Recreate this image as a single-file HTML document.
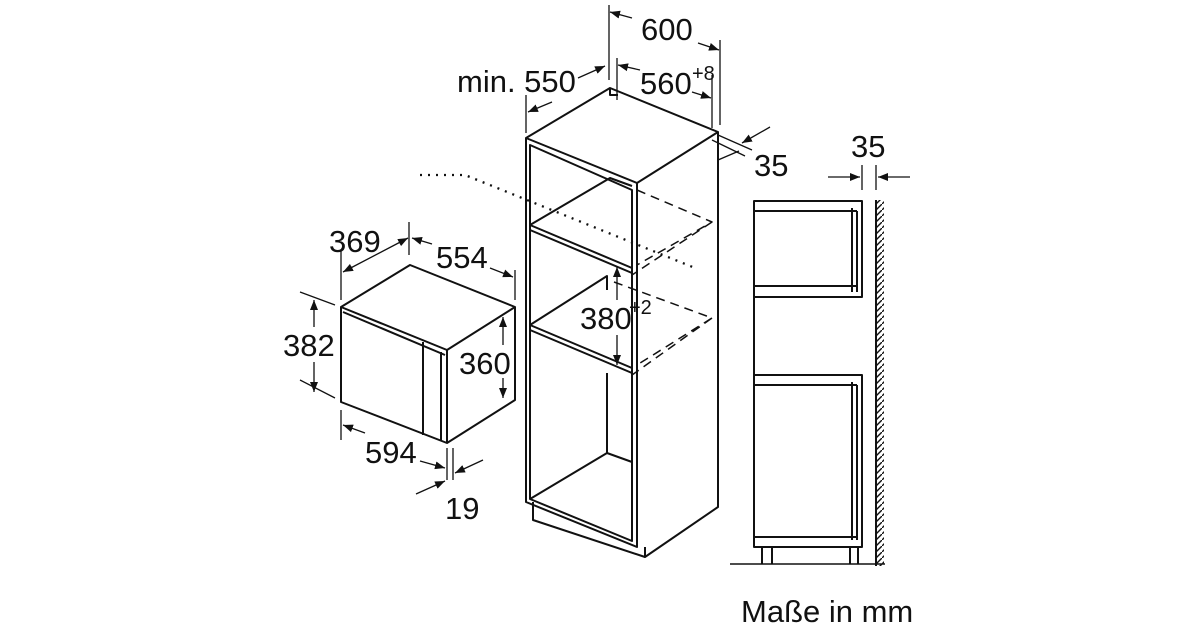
<!DOCTYPE html>
<html><head><meta charset="utf-8"><style>
body{margin:0;background:#fff}
svg{display:block}
text{font-family:"Liberation Sans",sans-serif;font-size:31px;fill:#111}
</style></head><body>
<svg width="1200" height="630" viewBox="0 0 1200 630" xmlns="http://www.w3.org/2000/svg">
<defs>
<marker id="a" viewBox="0 0 10 10" refX="10" refY="5" markerWidth="10" markerHeight="10" orient="auto-start-reverse" markerUnits="userSpaceOnUse"><path d="M0,1 L10,5 L0,9 z" fill="#111"/></marker>
<pattern id="h" width="6" height="6" patternUnits="userSpaceOnUse"><path d="M0,6 L6,0" stroke="#111" stroke-width="1.4"/></pattern>
</defs>
<g stroke="#111" stroke-width="2" fill="none" stroke-linejoin="round">
<!-- microwave -->
<path d="M341,307 L410,265 L515,307 L447,350 Z"/>
<path d="M343,312 L445,355"/>
<path d="M341,307 L341,402 L447,443 L515,400 L515,307"/>
<path d="M447,350 L447,443"/>
<path d="M423,342 L423,435"/>
<path d="M441,352 L441,440"/>
<!-- microwave dims -->
<path d="M341,250 V300" stroke-width="1.3"/>
<path d="M409,222 V255" stroke-width="1.3"/>
<path d="M515,270 V300" stroke-width="1.3"/>
<path d="M343,272 L408,238" marker-start="url(#a)" marker-end="url(#a)" stroke-width="1.3"/>
<path d="M432,244 L412,238" marker-end="url(#a)" stroke-width="1.3"/>
<path d="M490,268 L513,277" marker-end="url(#a)" stroke-width="1.3"/>
<path d="M300,292 L335,305 M300,380 L335,398" stroke-width="1.3"/>
<path d="M314,327 V300" marker-end="url(#a)" stroke-width="1.3"/>
<path d="M314,362 V392" marker-end="url(#a)" stroke-width="1.3"/>
<path d="M503,345 V317" marker-end="url(#a)" stroke-width="1.3"/>
<path d="M503,378 V398" marker-end="url(#a)" stroke-width="1.3"/>
<path d="M341,410 V440 M447,448 V480 M453,448 V480" stroke-width="1.3"/>
<path d="M365,433 L343,425" marker-end="url(#a)" stroke-width="1.3"/>
<path d="M420,461 L445,468" marker-end="url(#a)" stroke-width="1.3"/>
<path d="M483,460 L455,473" marker-end="url(#a)" stroke-width="1.3"/>
<path d="M416,494 L445,481" marker-end="url(#a)" stroke-width="1.3"/>
<!-- tall cabinet -->
<path d="M526,138 L610,88 L718,132 L637,183 Z"/>
<path d="M610,88 L610,95 L618,95"/>
<path d="M526,138 L526,502 L637,547 L637,183"/>
<path d="M530,145 L530,499 L632,541 L632,190 Z"/>
<path d="M718,132 V507 L645,557 L645,547"/>
<path d="M533,502 L533,520 L645,557"/>
<path d="M530,225 L632,268 M530,230 L632,273"/>
<path d="M530,225 L610,178 L632,186"/>
<path d="M530,325 L632,368 M530,330 L632,373"/>
<path d="M530,325 L607,276 L607,290"/>
<path d="M530,499 L607,453 L632,462"/>
<path d="M607,373 L607,453"/>
<g stroke-dasharray="9,6" stroke-width="1.5">
<path d="M637,190 L712,222 L637,265 M712,222 L632,275"/>
<path d="M614,282 L712,318 L637,365 M712,318 L632,375"/>
</g>
<path d="M420,175 H465 L695,268" stroke-dasharray="2,6" stroke-width="2.3"/>
<path d="M617,300 V267" marker-end="url(#a)" stroke-width="1.3"/>
<path d="M617,335 V365" marker-end="url(#a)" stroke-width="1.3"/>
<!-- top dims -->
<path d="M526,95 V133 M609,5 V80 M617,58 V100 M720,40 V125 M712,75 V128" stroke-width="1.3"/>
<path d="M632,18 L610,12" marker-end="url(#a)" stroke-width="1.3"/>
<path d="M698,43 L719,50" marker-end="url(#a)" stroke-width="1.3"/>
<path d="M578,78 L605,66" marker-end="url(#a)" stroke-width="1.3"/>
<path d="M552,102 L528,112" marker-end="url(#a)" stroke-width="1.3"/>
<path d="M640,70 L618,65" marker-end="url(#a)" stroke-width="1.3"/>
<path d="M692,92 L711,98" marker-end="url(#a)" stroke-width="1.3"/>
<path d="M718,135 L752,150 M712,140 L745,156" stroke-width="1.3"/>
<path d="M770,127 L742,143" marker-end="url(#a)" stroke-width="1.3"/>
<path d="M718,160 L739,151" stroke-width="1.3"/>
<!-- side view -->
<path d="M754,201 H862 V297 H754 Z M754,211 H857 M754,286 H857 M857,211 V292 M852,208 V292"/>
<path d="M754,297 V375"/>
<path d="M754,375 H862 V547 H754 Z M754,385 H857 M754,537 H857 M857,385 V540 M852,382 V540"/>
<path d="M762,547 V564 M772,547 V564 M850,547 V564 M858,547 V564"/>
<path d="M730,564 H885" stroke-width="1.5"/>
<path d="M876,200 V566"/>
<rect x="877" y="200" width="7" height="366" fill="url(#h)" stroke="none"/>
<path d="M862,165 V190 M876,165 V190" stroke-width="1.3"/>
<path d="M828,177 H860" marker-end="url(#a)" stroke-width="1.3"/>
<path d="M910,177 H878" marker-end="url(#a)" stroke-width="1.3"/>
</g>
<text x="329" y="252">369</text>
<text x="436" y="268">554</text>
<text x="283" y="356">382</text>
<text x="459" y="374">360</text>
<text x="365" y="463">594</text>
<text x="445" y="519">19</text>
<text x="457" y="92">min. 550</text>
<text x="641" y="40">600</text>
<text x="640" y="94">560</text><text x="692" y="80" style="font-size:20px">+8</text>
<text x="754" y="176">35</text>
<text x="851" y="157">35</text>
<text x="580" y="329">380</text><text x="629" y="314" style="font-size:20px">+2</text>
<text x="741" y="622">Maße in mm</text>
</svg>
</body></html>
